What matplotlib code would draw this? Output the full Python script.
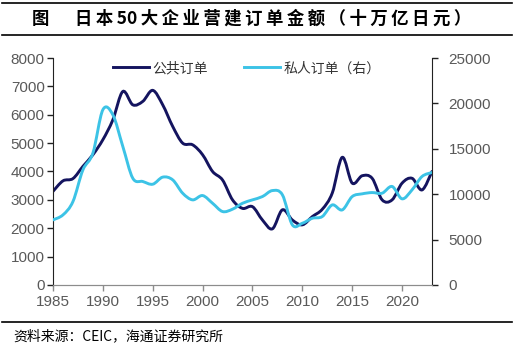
import numpy as np
import matplotlib
matplotlib.use("Agg")
import matplotlib.pyplot as plt
from matplotlib.path import Path
from matplotlib.patches import PathPatch
from matplotlib.lines import Line2D

plt.rcParams['font.family'] = ['Liberation Sans', 'Noto Sans CJK SC', 'DejaVu Sans']

years = list(range(1985, 2024))

# 公共订单 (left axis, 十万亿日元)
public_orders = [3300, 3670, 3750, 4180, 4590, 5120, 5820, 6820, 6350, 6470,
                 6860, 6350, 5590, 5000, 4940, 4590, 4000, 3700, 3000, 2700,
                 2760, 2290, 1980, 2650, 2290, 2120, 2410, 2670, 3240, 4500,
                 3590, 3850, 3760, 3000, 3000, 3590, 3760, 3350, 4000]

# 私人订单 (right axis)
private_orders = [7170, 7720, 9190, 12680, 14520, 19300, 18750, 15260, 11760, 11400,
                  11100, 11880, 11580, 10110, 9375, 9850, 9000, 8090, 8350, 9000,
                  9375, 9740, 10400, 9930, 6620, 6800, 7350, 7540, 8820, 8270,
                  9740, 10040, 10180, 10110, 10850, 9490, 10480, 11950, 12390]

left_ticks = [0, 1000, 2000, 3000, 4000, 5000, 6000, 7000, 8000]
right_ticks = [0, 5000, 10000, 15000, 20000, 25000]
x_ticks = [1985, 1990, 1995, 2000, 2005, 2010, 2015, 2020]

title_text = '日本 50 大企业营建订单金额（十万亿日元）'
source_text = '资料来源：CEIC，海通证券研究所'

DARK = '#14145f'
LIGHT = '#3cc3e6'
TICK_GRAY = '#595959'


def smooth_path(xs, ys):
    """Cubic Bezier path through the points (Catmull-Rom style smoothing)."""
    pts = np.column_stack([xs, ys]).astype(float)
    n = len(pts)
    verts = [pts[0]]
    codes = [Path.MOVETO]
    for i in range(n - 1):
        p0 = pts[i - 1] if i > 0 else pts[i]
        p1 = pts[i]
        p2 = pts[i + 1]
        p3 = pts[i + 2] if i + 2 < n else pts[i + 1]
        c1 = p1 + (p2 - p0) / 6.0
        c2 = p2 - (p3 - p1) / 6.0
        verts += [c1, c2, p2]
        codes += [Path.CURVE4] * 3
    return Path(verts, codes)


def spaced(s):
    """Widen CJK lettering with thin spaces, keeping digit groups intact."""
    out = ''
    for i, ch in enumerate(s):
        out += ch
        nxt = s[i + 1] if i + 1 < len(s) else ''
        if not nxt or ch == ' ' or nxt == ' ':
            continue
        if ch.isdigit() and nxt.isdigit():
            continue
        out += '\u2009'
    return out.replace(' ', '\u2009')


fig = plt.figure(figsize=(5.17, 3.49), dpi=100)
ax = fig.add_axes([0.1025, 0.1834, 0.7331, 0.6504])
ax2 = ax.twinx()

ax.add_patch(PathPatch(smooth_path(years, public_orders), facecolor='none',
                       edgecolor=DARK, lw=2.1, capstyle='round', joinstyle='round'))
ax2.add_patch(PathPatch(smooth_path(years, private_orders), facecolor='none',
                        edgecolor=LIGHT, lw=2.1, capstyle='round', joinstyle='round'))

ax.set_xlim(1985, 2023)
ax.set_ylim(0, 8000)
ax2.set_ylim(0, 25000)
ax.set_xticks(x_ticks)
ax.set_yticks(left_ticks)
ax2.set_yticks(right_ticks)

for a in (ax, ax2):
    a.spines['top'].set_visible(False)
    a.spines['bottom'].set_color('#8c8c8c')
    a.spines['left'].set_color('#222222')
    a.spines['right'].set_color('#222222')
    a.tick_params(axis='both', labelsize=11, labelcolor=TICK_GRAY, length=4,
                  width=1.0, direction='out', color='#222222')
ax.spines['right'].set_visible(False)
ax2.spines['left'].set_visible(False)
ax.tick_params(axis='x', color='#8c8c8c', length=4, pad=3)
ax.tick_params(axis='y', pad=2)
ax2.tick_params(axis='y', pad=8)

handles = [Line2D([], [], color=DARK, lw=2.1), Line2D([], [], color=LIGHT, lw=2.1)]
leg = ax2.legend(handles, ['公共订单', '私人订单（右）'], loc='center',
                 bbox_to_anchor=(0.512, 0.955), ncol=2, frameon=False,
                 prop={'family': ['Noto Sans CJK SC'], 'size': 10, 'weight': 'light'},
                 handlelength=2.6, handletextpad=0.25, columnspacing=2.6)
for t in leg.get_texts():
    t.set_color('#333333')

# title band and source note
for y in (0.9914, 0.8997, 0.0774):
    fig.add_artist(Line2D([0.004, 0.99], [y, y], transform=fig.transFigure,
                          color='black', lw=1.2))
fig.text(0.078, 0.946, '图', family=['Noto Sans CJK SC'], weight='bold',
         fontsize=12.5, ha='center', va='center')
fig.text(0.145, 0.946, spaced(title_text),
         family=['Noto Sans CJK SC', 'DejaVu Sans'], weight='bold',
         fontsize=12.5, ha='left', va='center')
fig.text(0.025, 0.037, source_text,
         family=['Noto Sans CJK SC'], fontsize=10, ha='left', va='center')

fig.savefig('out.png', dpi=100)
